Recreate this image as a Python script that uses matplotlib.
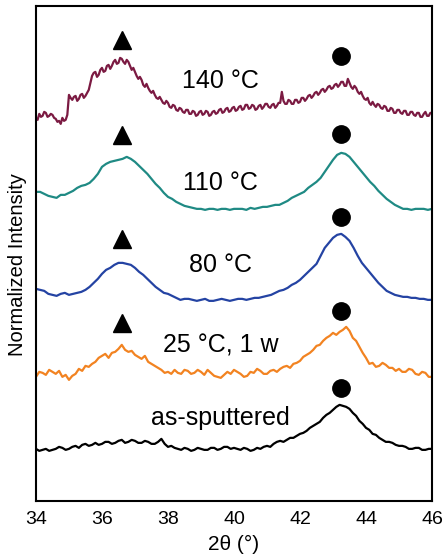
"""XRD patterns (2theta 34-46) of the as-sputtered film and after annealing, stacked."""

import numpy as np
import matplotlib
matplotlib.use('Agg')
import matplotlib.pyplot as plt

plt.rcParams['font.family'] = ['Liberation Sans', 'DejaVu Sans']

# stacked intensities (arbitrary units, offsets already included)
theta_140 = np.linspace(34.0, 46.0, 241)      # 0.05 deg steps
theta_fine = np.linspace(34.0, 46.0, 121)     # 0.1 deg steps
theta_smooth = np.linspace(34.0, 46.0, 97)    # 0.125 deg steps

y_140 = [383, 381, 387, 384, 385, 389, 388, 384, 385, 387,
         386, 383, 382, 379, 380, 377, 383, 380, 381, 386,
         406, 403, 401, 404, 405, 400, 402, 406, 407, 403,
         405, 408, 411, 418, 425, 428, 429, 424, 426, 431,
         433, 429, 430, 435, 436, 432, 435, 439, 441, 437,
         438, 443, 442, 439, 437, 441, 439, 435, 431, 433,
         429, 425, 422, 424, 421, 416, 414, 417, 413, 410,
         408, 410, 406, 403, 402, 404, 401, 398, 397, 400,
         398, 394, 393, 396, 395, 391, 390, 393, 392, 389,
         388, 391, 391, 387, 387, 390, 389, 385, 386, 389,
         390, 386, 387, 390, 389, 385, 386, 389, 390, 387,
         388, 391, 392, 388, 389, 392, 393, 389, 390, 393,
         394, 390, 391, 394, 395, 391, 392, 396, 396, 392,
         393, 396, 395, 391, 392, 395, 396, 392, 394, 397,
         397, 394, 393, 396, 397, 393, 395, 398, 398, 409,
         400, 397, 397, 401, 400, 397, 397, 401, 401, 398,
         399, 403, 403, 400, 402, 405, 406, 403, 405, 408,
         409, 406, 408, 411, 412, 409, 411, 414, 415, 412,
         413, 416, 417, 414, 416, 419, 419, 415, 415, 422,
         418, 414, 412, 415, 413, 409, 407, 409, 405, 402,
         401, 403, 398, 396, 399, 396, 394, 397, 396, 393,
         392, 395, 394, 390, 390, 393, 392, 388, 388, 391,
         391, 388, 387, 390, 390, 386, 386, 389, 389, 386,
         385, 388, 388, 384, 384, 387, 389, 385, 385, 388,
         388]

y_110 = [309, 309, 307, 305, 304, 303, 306, 306, 308, 310,
         313, 315, 316, 318, 322, 327, 334, 337, 339, 340,
         341, 342, 344, 342, 339, 335, 331, 327, 322, 317,
         313, 308, 304, 302, 299, 297, 295, 294, 293, 292,
         292, 291, 292, 292, 291, 292, 292, 291, 292, 292,
         292, 291, 293, 292, 293, 294, 294, 295, 296, 296,
         298, 300, 303, 305, 307, 309, 313, 316, 319, 323,
         329, 335, 341, 346, 348, 347, 344, 339, 334, 329,
         324, 319, 315, 310, 306, 302, 299, 296, 294, 292,
         292, 291, 292, 292, 292, 291, 292]

y_80 = [212, 211, 210, 207, 206, 205, 207, 208, 206, 207,
        208, 209, 211, 214, 218, 222, 227, 231, 233, 236,
        238, 238, 237, 236, 233, 229, 226, 222, 218, 214,
        211, 208, 207, 205, 203, 201, 202, 202, 201, 200,
        201, 202, 200, 200, 201, 202, 201, 200, 201, 202,
        202, 201, 202, 203, 203, 204, 205, 206, 208, 210,
        211, 213, 216, 218, 221, 225, 229, 233, 237, 245,
        253, 258, 263, 266, 267, 264, 260, 253, 245, 238,
        233, 228, 223, 218, 214, 210, 208, 206, 205, 204,
        204, 203, 203, 202, 202, 201, 201]

y_25 = [124, 129, 128, 126, 131, 129, 127, 130, 124, 126,
        121, 125, 127, 132, 130, 135, 134, 137, 139, 143,
        145, 147, 143, 148, 149, 152, 156, 151, 149, 150,
        146, 144, 142, 145, 139, 137, 135, 133, 131, 128,
        129, 127, 131, 128, 127, 131, 130, 127, 128, 131,
        129, 126, 131, 128, 125, 124, 123, 126, 129, 127,
        131, 129, 127, 124, 125, 129, 128, 132, 130, 127,
        127, 130, 131, 129, 132, 134, 135, 133, 137, 138,
        140, 144, 146, 148, 151, 155, 156, 160, 163, 165,
        168, 166, 169, 171, 174, 170, 163, 160, 154, 148,
        143, 137, 138, 134, 135, 138, 136, 133, 133, 130,
        132, 129, 129, 132, 131, 127, 126, 129, 128, 124,
        124]

y_asp = [52, 50, 51, 52, 50, 51, 52, 54, 53, 51,
         52, 54, 55, 53, 56, 57, 55, 56, 58, 56,
         57, 59, 59, 57, 58, 60, 61, 58, 59, 61,
         60, 58, 58, 60, 59, 57, 57, 59, 62, 57,
         54, 55, 53, 52, 51, 53, 52, 50, 51, 53,
         52, 51, 51, 53, 53, 51, 52, 54, 54, 52,
         53, 52, 51, 53, 52, 50, 51, 53, 52, 54,
         55, 54, 57, 59, 60, 59, 61, 63, 63, 65,
         67, 68, 70, 73, 75, 77, 79, 83, 86, 88,
         91, 94, 96, 95, 94, 92, 88, 85, 80, 77,
         73, 71, 67, 66, 63, 61, 59, 59, 58, 56,
         55, 55, 54, 52, 52, 53, 53, 51, 51, 52,
         52]

labels = ["140 °C", "110 °C", "80 °C", "25 °C, 1 w", "as-sputtered"]
label_y = [413, 311, 229, 148, 76]
colors = ["#7b1a42", "#1f8a84", "#2443a3", "#f28321", "#000000"]

# phase markers
tri_theta = 36.6
tri_y = [461, 366, 262, 178]
circ_theta = 43.25
circ_y = [445, 367, 284, 190, 113]


def main():
    fig = plt.figure(figsize=(4.44, 5.59), dpi=100)
    ax = fig.add_axes([0.081, 0.104, 0.892, 0.8855])

    series = [(theta_140, y_140), (theta_smooth, y_110), (theta_smooth, y_80),
              (theta_fine, y_25), (theta_fine, y_asp)]
    for (x, y), c in zip(series, colors):
        ax.plot(x, y, color=c, lw=1.6)

    for lab, ly in zip(labels, label_y):
        ax.text(39.6, ly, lab, ha="center", va="baseline", fontsize=18)

    ax.plot([tri_theta] * len(tri_y), tri_y, ls="none", marker="^",
            ms=13, color="black")
    ax.plot([circ_theta] * len(circ_y), circ_y, ls="none", marker="o",
            ms=12.5, color="black")

    ax.set_xlim(34, 46)
    ax.set_ylim(0, 495)
    ax.set_xticks([34, 36, 38, 40, 42, 44, 46])
    ax.set_yticks([])
    ax.tick_params(axis="x", length=0, pad=7, labelsize=14)
    for sp in ax.spines.values():
        sp.set_linewidth(1.5)
    ax.set_xlabel("2θ (°)", fontsize=15, labelpad=5)
    ax.set_ylabel("Normalized Intensity", fontsize=14.5)
    ax.yaxis.set_label_coords(-0.023, 0.477)

    plt.savefig("out.png", dpi=100)
    plt.close()


if __name__ == "__main__":
    main()
